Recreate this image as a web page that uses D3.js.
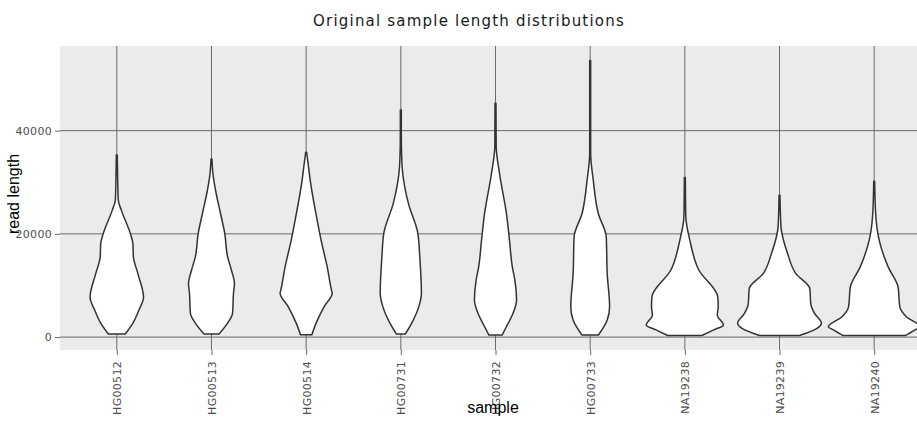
<!DOCTYPE html>
<html>
<head>
<meta charset="utf-8">
<script src="https://cdn.jsdelivr.net/npm/d3@7"></script>
<style>
  body { margin: 0; background: #fff; }
  svg text { font-family: "DejaVu Sans", Verdana, sans-serif; }
  .axis-title { font-family: "Liberation Sans", Arial, sans-serif !important; }
</style>
</head>
<body>
<div id="chart"></div>
<script>
// sample names on the x axis
var samples = ["HG00512", "HG00513", "HG00514", "HG00731", "HG00732", "HG00733", "NA19238", "NA19239", "NA19240"];
var yTicks = [0, 20000, 40000];

// violin outlines: [read length (thousands), relative density]
var hg00512 = [[0.6,0.18],[2.7,0.34],[5.2,0.465],[7.7,0.565],[12.3,0.445],[15.6,0.35],[18.1,0.34],[20.1,0.285],[24.6,0.095],[26.6,0.03],[32.4,0.015],[35.3,0.01]];
var hg00513 = [[0.6,0.16],[2.7,0.34],[4.6,0.445],[8.5,0.465],[10.4,0.485],[13,0.42],[15.6,0.34],[20.1,0.28],[24,0.19],[28.5,0.085],[31.7,0.03],[34.5,0.01]];
var hg00514 = [[0.45,0.12],[2.7,0.21],[5.9,0.38],[8.5,0.55],[9.1,0.535],[13.6,0.445],[18.8,0.315],[24,0.205],[30.4,0.085],[33,0.05],[35.8,0.01]];
var hg00731 = [[0.6,0.095],[2.7,0.23],[5.9,0.38],[8.5,0.435],[15.6,0.4],[20.1,0.36],[25.9,0.16],[31.7,0.04],[34.3,0.02],[39.5,0.01],[44,0.01]];
var hg00732 = [[0.4,0.14],[2,0.23],[4.6,0.37],[7.2,0.445],[11,0.41],[13.6,0.355],[18.8,0.295],[24,0.23],[31.7,0.085],[36.9,0.015],[45.3,0.01]];
var hg00733 = [[0.4,0.175],[3.3,0.36],[5.9,0.41],[12.3,0.36],[19.4,0.34],[24,0.17],[30.4,0.065],[35.6,0.01],[53.6,0.01]];
var na19238 = [[0.3,0.36],[1.4,0.61],[2.3,0.815],[4.3,0.685],[5.9,0.705],[7.8,0.695],[13,0.295],[18.8,0.105],[23.3,0.02],[30.9,0.01]];
var na19239 = [[0.3,0.42],[1.6,0.775],[2.7,0.885],[4.6,0.74],[6.5,0.66],[9.4,0.64],[12.3,0.345],[16.2,0.17],[21.4,0.03],[27.5,0.01]];
var na19240 = [[0.3,0.655],[1.4,0.865],[2,0.97],[3.9,0.685],[5.9,0.54],[9.7,0.505],[13.6,0.295],[18.8,0.105],[24,0.03],[30.2,0.01]];

function init() {
    var w = 917;
    var h = 422;
    var panel = {left: 60, right: 931, top: 46, bottom: 350};

    var profiles = [hg00512, hg00513, hg00514, hg00731, hg00732, hg00733, na19238, na19239, na19240];
    var dataset = samples.map(function(s, i) {
        return {sample: s, outline: profiles[i].map(function(p) { return {value: p[0] * 1000, density: p[1]}; })};
    });

    var xScale = d3.scalePoint()
        .domain(samples)
        .range([panel.left, panel.right])
        .padding(0.6);

    var yScale = d3.scaleLinear()
        .domain([-2500, 56400])
        .range([panel.bottom, panel.top]);

    // half width of a violin
    var wScale = d3.scaleLinear()
        .domain([0, 1])
        .range([0, xScale.step() / 2]);

    var svg = d3.select("#chart")
        .append("svg")
        .attr("width", w)
        .attr("height", h);

    // panel background
    svg.append("rect")
        .attr("x", panel.left)
        .attr("y", panel.top)
        .attr("width", panel.right - panel.left)
        .attr("height", panel.bottom - panel.top)
        .attr("fill", "#ebebeb");

    // grid
    svg.selectAll(".hgrid")
        .data(yTicks)
        .enter().append("line")
        .attr("x1", panel.left).attr("x2", panel.right)
        .attr("y1", function(d) { return yScale(d); })
        .attr("y2", function(d) { return yScale(d); })
        .attr("stroke", "#6b6b6b")
        .attr("stroke-width", 1);

    svg.selectAll(".vgrid")
        .data(samples)
        .enter().append("line")
        .attr("x1", function(d) { return xScale(d); })
        .attr("x2", function(d) { return xScale(d); })
        .attr("y1", panel.top).attr("y2", panel.bottom)
        .attr("stroke", "#6b6b6b")
        .attr("stroke-width", 1);

    // violins
    dataset.forEach(function(d) {
        var cx = xScale(d.sample);
        var area = d3.area()
            .y(function(p) { return yScale(p.value); })
            .x0(function(p) { return cx - wScale(p.density); })
            .x1(function(p) { return cx + wScale(p.density); })
            .curve(d3.curveMonotoneY);

        svg.append("path")
            .datum(d.outline)
            .attr("d", area)
            .attr("fill", "#ffffff")
            .attr("stroke", "#333333")
            .attr("stroke-width", 1.5)
            .attr("stroke-linejoin", "round");
    });

    // axes
    var xAxis = d3.axisBottom(xScale).tickSize(5).tickPadding(5);
    var yAxis = d3.axisLeft(yScale).tickValues(yTicks).tickSize(5).tickPadding(3).tickFormat(d3.format("d"));

    var gx = svg.append("g")
        .attr("transform", "translate(0," + panel.bottom + ")")
        .call(xAxis);
    gx.select(".domain").remove();
    gx.selectAll(".tick line").attr("stroke", "#6b6b6b");
    gx.selectAll(".tick text")
        .attr("transform", "rotate(-90)")
        .attr("x", -11)
        .attr("y", 0)
        .attr("dy", "0.35em")
        .attr("text-anchor", "end")
        .attr("fill", "#4d4d4d")
        .style("font-size", "11px")
        .style("letter-spacing", "0.3px");

    var gy = svg.append("g")
        .attr("transform", "translate(" + panel.left + ",0)")
        .call(yAxis);
    gy.select(".domain").remove();
    gy.selectAll(".tick line").attr("stroke", "#6b6b6b");
    gy.selectAll(".tick text")
        .attr("fill", "#4d4d4d")
        .style("font-size", "11px")
        .style("letter-spacing", "0.3px");

    // titles
    svg.append("text")
        .attr("x", 469)
        .attr("y", 26)
        .attr("text-anchor", "middle")
        .attr("fill", "#1a1a1a")
        .style("font-size", "15px")
        .style("letter-spacing", "1.2px")
        .text("Original sample length distributions");

    svg.append("text")
        .attr("class", "axis-title")
        .attr("x", 493)
        .attr("y", 413)
        .attr("text-anchor", "middle")
        .style("font-size", "16px")
        .text("sample");

    svg.append("text")
        .attr("class", "axis-title")
        .attr("transform", "translate(19,194) rotate(-90)")
        .attr("text-anchor", "middle")
        .style("font-size", "16px")
        .text("read length");
}
window.onload = init;
</script>
</body>
</html>
